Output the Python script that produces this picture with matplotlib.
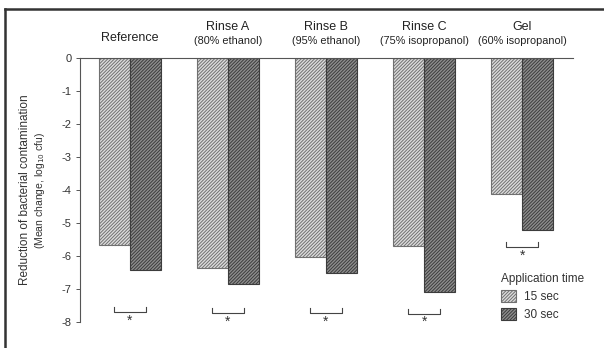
import matplotlib
matplotlib.use("Agg")
import matplotlib.pyplot as plt
from matplotlib.patches import Patch
from matplotlib.lines import Line2D
import numpy as np

plt.rcParams['font.family'] = ['Liberation Sans', 'DejaVu Sans']
plt.rcParams['hatch.linewidth'] = 0.7

groups = ["Reference", "Rinse A", "Rinse B", "Rinse C", "Gel"]
subtitles = ["", "(80% ethanol)", "(95% ethanol)", "(75% isopropanol)", "(60% isopropanol)"]
sec15 = [-5.67, -6.35, -6.03, -5.70, -4.12]
sec30 = [-6.42, -6.85, -6.50, -7.08, -5.20]
bracket_y = [-7.55, -7.58, -7.58, -7.60, -5.58]
series_labels = ["15 sec", "30 sec"]
yticks = [0, -1, -2, -3, -4, -5, -6, -7, -8]

fig = plt.figure(figsize=(6.04, 3.48), dpi=100)
ax = fig.add_axes([80/604, 1-322/348, (573-80)/604, (322-58)/348])

x = np.arange(len(groups))
w = 0.32
hatch = '//////////'
c15, e15 = '#dcdcdc', '#707070'
c30, e30 = '#8e8e8e', '#3c3c3c'
ax.bar(x - w/2, sec15, w, color=c15, edgecolor=e15, hatch=hatch, linewidth=0.8)
ax.bar(x + w/2, sec30, w, color=c30, edgecolor=e30, hatch=hatch, linewidth=0.8)

ax.set_ylim(-8, 0)
ax.set_xlim(-0.51, 4.52)
ax.set_yticks(yticks)
ax.set_yticklabels([str(t) for t in yticks], fontsize=8, color='#333333')
ax.tick_params(axis='y', length=3, width=0.7, color='#555555', pad=3)
ax.set_xticks([])
ax.spines['right'].set_visible(False)
ax.spines['bottom'].set_visible(False)
ax.spines['top'].set_color('#555555')
ax.spines['left'].set_color('#555555')
ax.spines['top'].set_linewidth(0.8)
ax.spines['left'].set_linewidth(0.8)

# significance brackets
for i, by in enumerate(bracket_y):
    x0, x1 = x[i] - w/2, x[i] + w/2
    ax.plot([x0, x0, x1, x1], [by, by - 0.15, by - 0.15, by], color='#444444', lw=0.8, clip_on=False)
    ax.text(x[i], by - 0.40, '*', ha='center', va='center', fontsize=10, color='#333333')

# group titles
for i, (g, s) in enumerate(zip(groups, subtitles)):
    if s:
        ax.text(x[i], 1 + 31/264, g, transform=ax.get_xaxis_transform(), ha='center', va='center',
                fontsize=9, color='#222222')
        ax.text(x[i], 1 + 17/264, s, transform=ax.get_xaxis_transform(), ha='center', va='center',
                fontsize=7.8, color='#222222')
    else:
        ax.text(x[i], 1 + 20/264, g, transform=ax.get_xaxis_transform(), ha='center', va='center',
                fontsize=9, color='#222222')

# y label
fig.text(25/604, 1 - 190/348, "Reduction of bacterial contamination", rotation=90,
         ha='center', va='center', fontsize=8.5, color='#333333')
fig.text(40/604, 1 - 190/348, "(Mean change, log$_{10}$ cfu)", rotation=90,
         ha='center', va='center', fontsize=7.5, color='#333333')

# legend
handles = [Patch(facecolor=c15, edgecolor=e15, hatch=hatch, linewidth=0.8),
           Patch(facecolor=c30, edgecolor=e30, hatch=hatch, linewidth=0.8)]
leg = fig.legend(handles, series_labels, title="Application time", loc='upper left',
                 bbox_to_anchor=(496/604, 1 - 268/348), frameon=False, fontsize=8.5,
                 title_fontsize=8.5, handlelength=1.3, handleheight=1.2, handletextpad=0.7,
                 labelspacing=0.45, alignment='left', borderaxespad=0)
for t in leg.get_texts():
    t.set_color('#333333')
leg.get_title().set_color('#333333')

# outer frame (left and top)
fig.add_artist(Line2D([5/604, 5/604], [0, 1 - 9/348], transform=fig.transFigure, color='#333333', lw=1.8))
fig.add_artist(Line2D([5/604, 1], [1 - 9/348, 1 - 9/348], transform=fig.transFigure, color='#333333', lw=1.8))

fig.savefig("out.png", dpi=100)
